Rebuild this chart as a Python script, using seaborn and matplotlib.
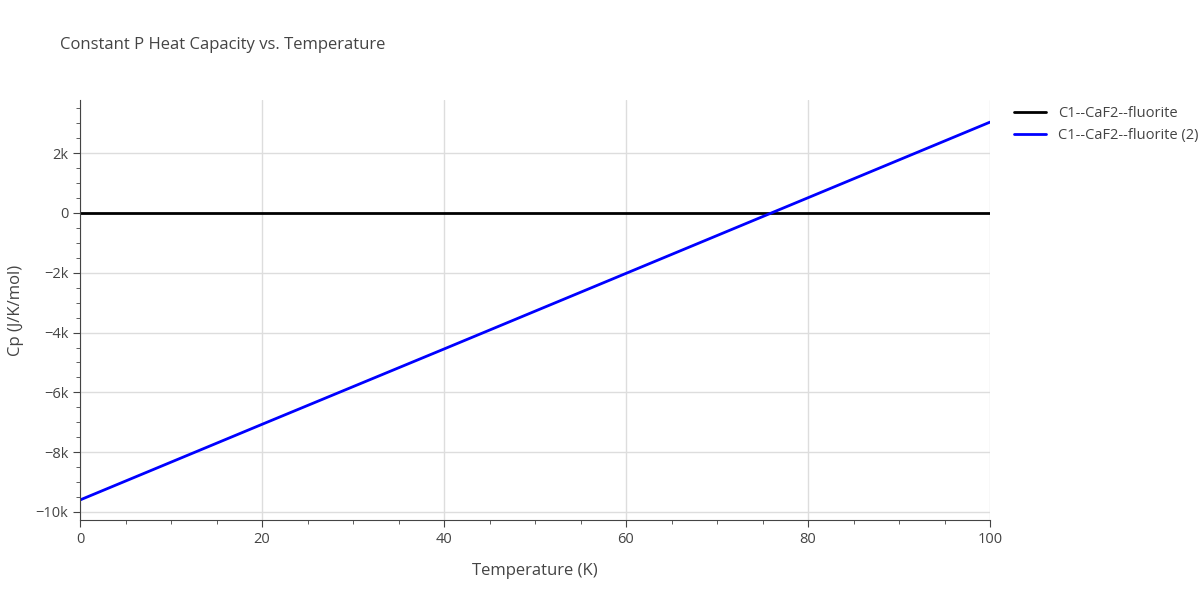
import numpy as np
import pandas as pd
import seaborn as sns
import matplotlib.pyplot as plt
from matplotlib.ticker import MultipleLocator, FuncFormatter

# values
temperature = [0, 20, 40, 60, 80, 100]
cp_fluorite = [0, 0, 0, 0, 0, 0]
cp_fluorite_2 = [-9600, -7070, -4550, -2020, 510, 3040]
series_names = ["C1--CaF2--fluorite", "C1--CaF2--fluorite (2)"]
series_colors = ["black", "blue"]

df = pd.DataFrame({
    "Temperature": temperature * 2,
    "Cp": cp_fluorite + cp_fluorite_2,
    "series": [series_names[0]] * 6 + [series_names[1]] * 6,
})

sns.set_style("white")
plt.rcParams["font.family"] = ["Open Sans", "DejaVu Sans"]
text_color = "#444444"

fig = plt.figure(figsize=(12, 6), dpi=100)
ax = fig.add_axes([80 / 1200, 80 / 600, 910 / 1200, 420 / 600])

sns.lineplot(data=df, x="Temperature", y="Cp", hue="series",
             palette=dict(zip(series_names, series_colors)), linewidth=2, ax=ax)

ax.set_xlim(0, 100)
ax.set_ylim(-10270, 3780)
ax.xaxis.set_major_locator(MultipleLocator(20))
ax.xaxis.set_minor_locator(MultipleLocator(5))
ax.yaxis.set_major_locator(MultipleLocator(2000))
ax.yaxis.set_minor_locator(MultipleLocator(500))
ax.yaxis.set_major_formatter(FuncFormatter(
    lambda v, p: "0" if v == 0 else f"{v/1000:.0f}k".replace("-", "\u2212")))
ax.grid(True, which="major", color="#dddddd", linewidth=1)
ax.set_axisbelow(True)
for side in ["top", "right"]:
    ax.spines[side].set_visible(False)
ax.spines["left"].set_color(text_color)
ax.spines["bottom"].set_color(text_color)
ax.tick_params(axis="both", which="major", direction="out", length=5,
               color=text_color, labelcolor=text_color, labelsize=10.5)
ax.tick_params(axis="both", which="minor", direction="out", length=3, color=text_color)
ax.tick_params(axis="x", which="both", bottom=True)
ax.tick_params(axis="y", which="both", left=True)

ax.set_xlabel("Temperature (K)", fontsize=12, color=text_color, labelpad=12)
ax.set_ylabel("Cp (J/K/mol)", fontsize=12, color=text_color, labelpad=8)
fig.text(60 / 1200, 1 - 45 / 600, "Constant P Heat Capacity vs. Temperature",
         fontsize=12, color=text_color, va="center")

leg = ax.legend(loc="upper left", bbox_to_anchor=(1.02, 1.0), frameon=False,
                fontsize=10.5, handlelength=2.2, borderaxespad=0)
for t in leg.get_texts():
    t.set_color(text_color)

fig.savefig("out.png", dpi=100)
